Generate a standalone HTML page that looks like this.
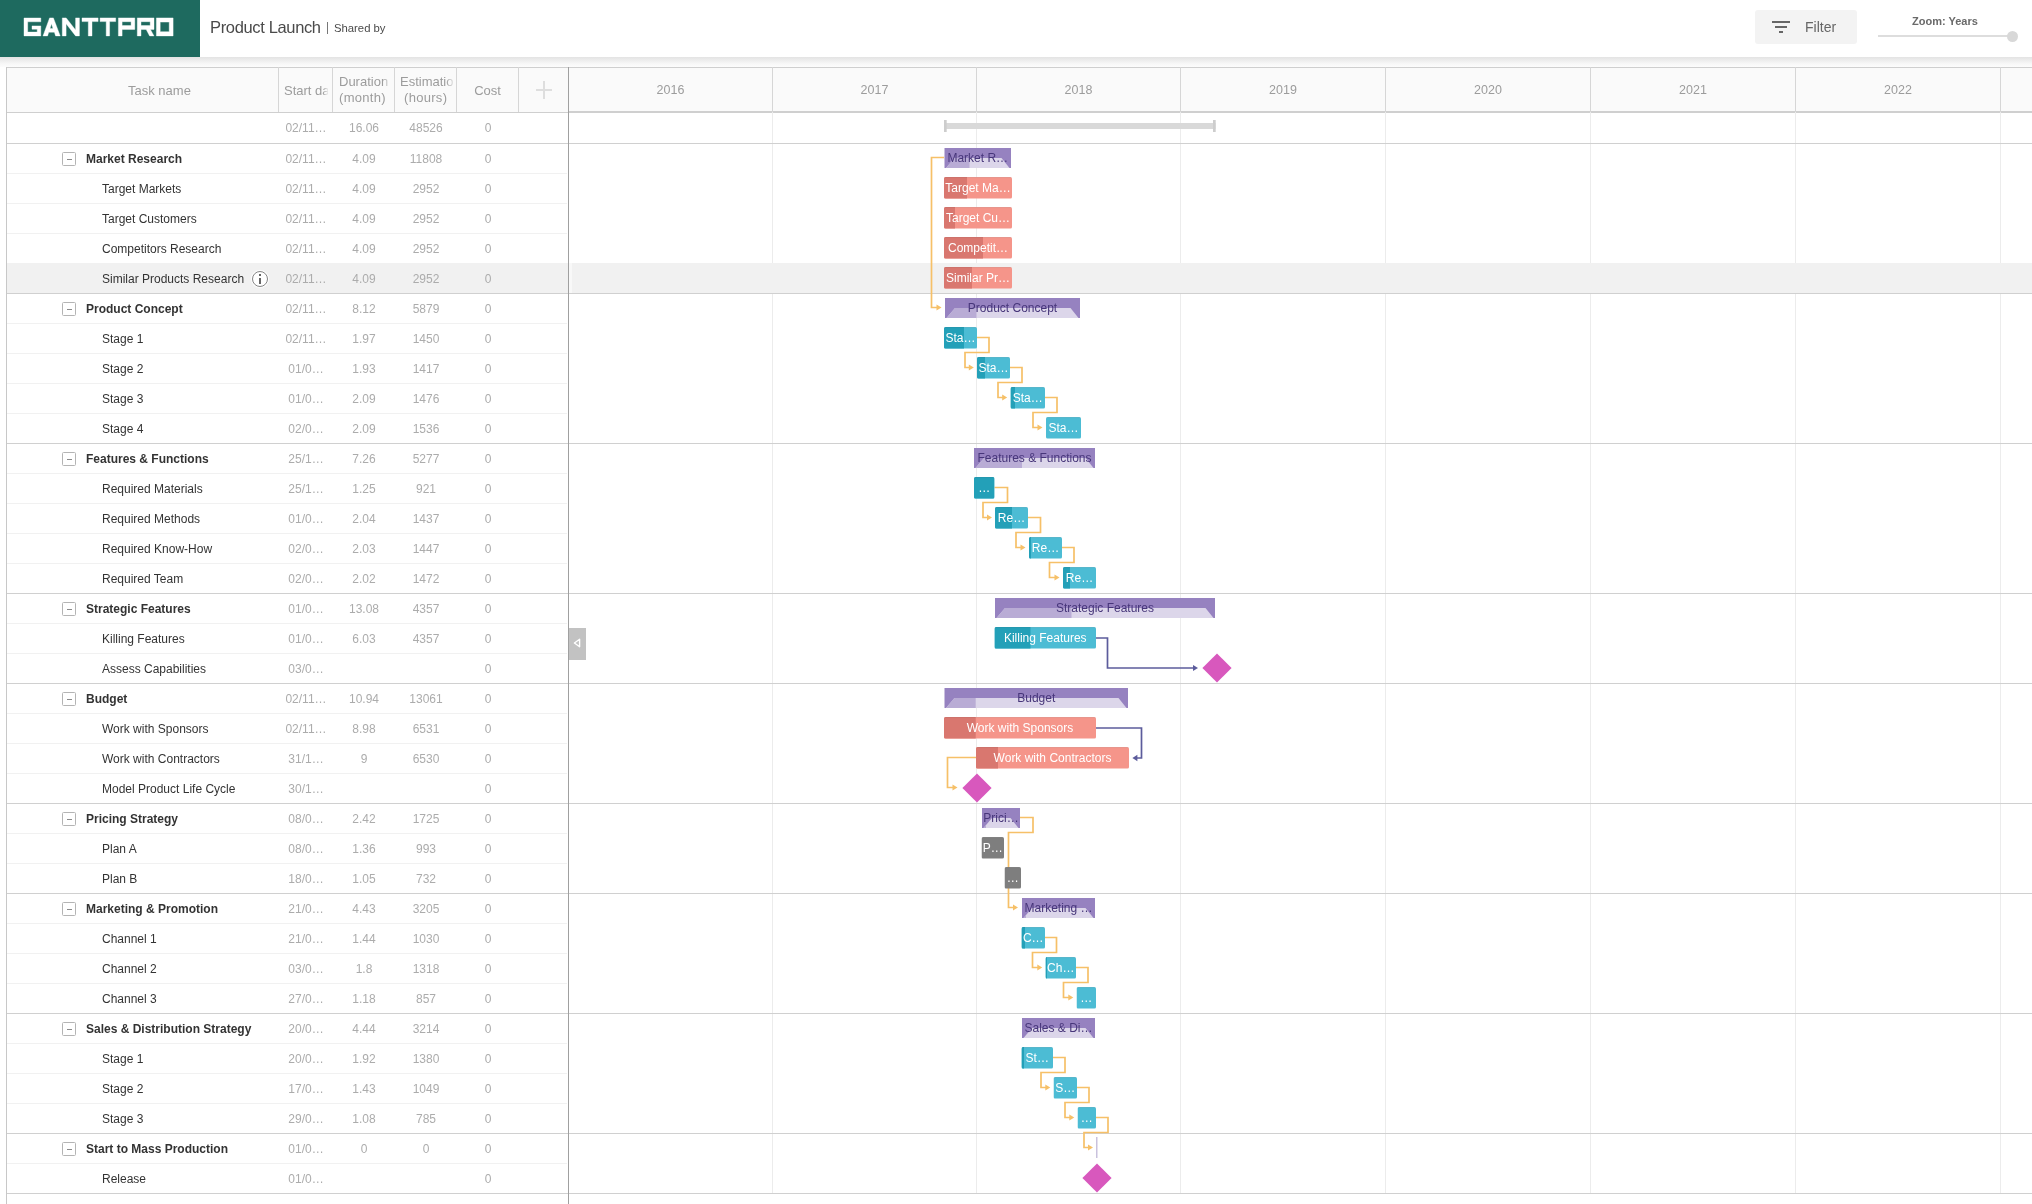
<!DOCTYPE html>
<html><head><meta charset="utf-8"><title>Product Launch</title>
<style>
*{margin:0;padding:0;box-sizing:border-box}
html,body{width:2032px;height:1204px;overflow:hidden;background:#fff;font-family:"Liberation Sans", sans-serif;-webkit-font-smoothing:antialiased}
#root{position:absolute;left:0;top:0;width:2032px;height:1204px;will-change:transform}
.a{position:absolute}
.t{position:absolute;white-space:nowrap;line-height:1}
.nm{font-size:12px;color:#333}
.nb{font-size:12px;color:#333;font-weight:bold}
.num{font-size:12px;color:#acacac;text-align:center;white-space:nowrap;position:absolute;line-height:30px;height:30px;padding-top:1px}
.hd{font-size:13px;color:#9c9c9c;position:absolute;text-align:center;white-space:nowrap;overflow:hidden}
.yr{font-size:12.5px;color:#9c9c9c;position:absolute;text-align:center;top:68px;height:45px;line-height:45px}
</style></head><body><div id="root">

<div class="a" style="left:0;top:0;width:2032px;height:57px;background:#fff"></div>
<div class="a" style="left:0;top:57px;width:2032px;height:10px;background:linear-gradient(#e3e3e3,#ececec 30%,#f2f2f2 50%,#f8f8f8 70%,#fcfcfc)"></div>
<div class="a" style="left:0;top:0;width:200px;height:57px;background:#1e6a5f"></div>
<svg class="a" style="left:0;top:0" width="200" height="57"><g fill="#fff" fill-rule="evenodd" stroke="#fff" stroke-width="0.4" stroke-linejoin="round">
<path d="M40.8,18 H24 V35.9 H40.8 V25.9 H32 V29.2 H37.2 V32.1 H27.7 V21.8 H40.8 Z"/>
<path d="M43,35.9 L49.6,17.9 L53.4,17.9 L60.2,35.9 L55.6,35.9 L54.4,32.2 L48.7,32.2 L47.6,35.9 Z M50,28.6 L53,28.6 L51.5,23.8 Z"/>
<path d="M62.3,35.9 V17.9 H66.2 L75.6,30 V17.9 H79.4 V35.9 H75.6 L66.1,23.8 V35.9 Z"/>
<path d="M82,17.9 H98.1 V21.6 H92 V35.9 H88.3 V21.6 H82 Z"/>
<path d="M100.1,17.9 H115.7 V21.6 H109.6 V35.9 H106.2 V21.6 H100.1 Z"/>
<path d="M118.4,35.9 V17.9 H134.8 V29.4 H122.1 V35.9 Z M122.1,21.7 H131.1 V25.6 H122.1 Z"/>
<path d="M137.3,35.9 V17.9 H154 V29.4 H150.4 L154,35.9 H149.6 L146.2,29.4 H141 V35.9 Z M141,21.7 H150.2 V25.6 H141 Z"/>
<path d="M156.4,17.9 H173.1 V35.9 H156.4 Z M160.2,22.1 V31.7 H169.2 V22.1 Z"/>
</g></svg>
<div class="t" style="left:210px;top:19px;font-size:16.5px;color:#4a4a4a;letter-spacing:-0.35px">Product Launch</div>
<div class="a" style="left:327px;top:22px;width:1px;height:12px;background:#777"></div>
<div class="t" style="left:334px;top:23px;font-size:11.3px;color:#4a4a4a">Shared by</div>
<div class="a" style="left:1755px;top:10px;width:102px;height:34px;background:#f3f3f3;border-radius:3px"></div>
<div class="a" style="left:1772px;top:21px;width:18px;height:2px;background:#666"></div>
<div class="a" style="left:1775px;top:26px;width:12px;height:2px;background:#666"></div>
<div class="a" style="left:1779px;top:31px;width:4px;height:2px;background:#666"></div>
<div class="t" style="left:1805px;top:20px;font-size:14px;color:#666">Filter</div>
<div class="t" style="left:1912px;top:16px;font-size:11px;color:#6a6a6a;font-weight:bold">Zoom: Years</div>
<div class="a" style="left:1878px;top:35px;width:136px;height:2px;background:#ddd"></div>
<div class="a" style="left:2006.5px;top:30.5px;width:11px;height:11px;background:#d8d8d8;border-radius:50%"></div>
<div class="a" style="left:6px;top:67px;width:2026px;height:46px;background:#fafafa;border-top:1px solid #cfcfcf"></div>
<div class="a" style="left:6px;top:112px;width:562px;height:1px;background:#cfcfcf"></div>
<div class="a" style="left:568px;top:111px;width:1464px;height:2px;background:#cfcfcf"></div>
<div class="a" style="left:278px;top:67px;width:1px;height:45px;background:#d6d6d6"></div>
<div class="a" style="left:332px;top:67px;width:1px;height:45px;background:#d6d6d6"></div>
<div class="a" style="left:394px;top:67px;width:1px;height:45px;background:#d6d6d6"></div>
<div class="a" style="left:456px;top:67px;width:1px;height:45px;background:#d6d6d6"></div>
<div class="a" style="left:518px;top:67px;width:1px;height:45px;background:#d6d6d6"></div>
<div class="hd" style="left:128px;top:83px;text-align:left">Task name</div>
<div class="hd" style="left:284px;top:83px;width:44px;text-align:left;-webkit-mask-image:linear-gradient(to right,#000 39px,rgba(0,0,0,0.15) 44px)">Start date</div>
<div class="hd" style="left:339px;top:74px;width:51px;line-height:16px;text-align:left;-webkit-mask-image:linear-gradient(to right,#000 44px,rgba(0,0,0,0.15) 51px)">Duration</div>
<div class="hd" style="left:339px;top:90px;width:49px;line-height:16px;text-align:left;letter-spacing:0.3px">(month)</div>
<div class="hd" style="left:400px;top:74px;width:54px;line-height:16px;text-align:left;-webkit-mask-image:linear-gradient(to right,#000 46px,rgba(0,0,0,0.15) 54px)">Estimation</div>
<div class="hd" style="left:404px;top:90px;width:45px;line-height:16px;text-align:left;letter-spacing:0.3px">(hours)</div>
<div class="hd" style="left:457px;top:83px;width:61px">Cost</div>
<div class="a" style="left:536px;top:89px;width:16px;height:2px;background:#dedede"></div>
<div class="a" style="left:543px;top:81px;width:2px;height:18px;background:#dedede"></div>
<div class="yr" style="left:568.5px;width:204.0px">2016</div>
<div class="yr" style="left:772.5px;width:204.0px">2017</div>
<div class="yr" style="left:976.5px;width:204.0px">2018</div>
<div class="yr" style="left:1180.5px;width:205.0px">2019</div>
<div class="yr" style="left:1385.5px;width:205.0px">2020</div>
<div class="yr" style="left:1590.5px;width:205.0px">2021</div>
<div class="yr" style="left:1795.5px;width:205.0px">2022</div>
<div class="yr" style="left:2000.5px;width:204.5px"></div>
<div class="a" style="left:772.0px;top:67px;width:1px;height:1126px;background:#ececec"></div>
<div class="a" style="left:772.0px;top:67px;width:1px;height:45px;background:#d6d6d6"></div>
<div class="a" style="left:976.0px;top:67px;width:1px;height:1126px;background:#ececec"></div>
<div class="a" style="left:976.0px;top:67px;width:1px;height:45px;background:#d6d6d6"></div>
<div class="a" style="left:1180.0px;top:67px;width:1px;height:1126px;background:#ececec"></div>
<div class="a" style="left:1180.0px;top:67px;width:1px;height:45px;background:#d6d6d6"></div>
<div class="a" style="left:1385.0px;top:67px;width:1px;height:1126px;background:#ececec"></div>
<div class="a" style="left:1385.0px;top:67px;width:1px;height:45px;background:#d6d6d6"></div>
<div class="a" style="left:1590.0px;top:67px;width:1px;height:1126px;background:#ececec"></div>
<div class="a" style="left:1590.0px;top:67px;width:1px;height:45px;background:#d6d6d6"></div>
<div class="a" style="left:1795.0px;top:67px;width:1px;height:1126px;background:#ececec"></div>
<div class="a" style="left:1795.0px;top:67px;width:1px;height:45px;background:#d6d6d6"></div>
<div class="a" style="left:2000.0px;top:67px;width:1px;height:1126px;background:#ececec"></div>
<div class="a" style="left:2000.0px;top:67px;width:1px;height:45px;background:#d6d6d6"></div>
<div class="a" style="left:7px;top:143px;width:560px;height:1px;background:#f1f1f1"></div>
<div class="num" style="left:278px;top:112px;width:56px">02/11…</div>
<div class="num" style="left:333px;top:112px;width:62px">16.06</div>
<div class="num" style="left:395px;top:112px;width:62px">48526</div>
<div class="num" style="left:457px;top:112px;width:62px">0</div>
<div class="a" style="left:7px;top:173px;width:560px;height:1px;background:#f1f1f1"></div>
<div class="a" style="left:62px;top:152px;width:14px;height:14px;border:1px solid #b4b4b4;border-radius:1.5px;background:#fff"></div>
<div class="a" style="left:67px;top:159px;width:5px;height:1px;background:#8a8a8a"></div>
<div class="t nb" style="left:86px;top:153px">Market Research</div>
<div class="num" style="left:278px;top:143px;width:56px">02/11…</div>
<div class="num" style="left:333px;top:143px;width:62px">4.09</div>
<div class="num" style="left:395px;top:143px;width:62px">11808</div>
<div class="num" style="left:457px;top:143px;width:62px">0</div>
<div class="a" style="left:7px;top:203px;width:560px;height:1px;background:#f1f1f1"></div>
<div class="t nm" style="left:102px;top:183px">Target Markets</div>
<div class="num" style="left:278px;top:173px;width:56px">02/11…</div>
<div class="num" style="left:333px;top:173px;width:62px">4.09</div>
<div class="num" style="left:395px;top:173px;width:62px">2952</div>
<div class="num" style="left:457px;top:173px;width:62px">0</div>
<div class="a" style="left:7px;top:233px;width:560px;height:1px;background:#f1f1f1"></div>
<div class="t nm" style="left:102px;top:213px">Target Customers</div>
<div class="num" style="left:278px;top:203px;width:56px">02/11…</div>
<div class="num" style="left:333px;top:203px;width:62px">4.09</div>
<div class="num" style="left:395px;top:203px;width:62px">2952</div>
<div class="num" style="left:457px;top:203px;width:62px">0</div>
<div class="a" style="left:7px;top:263px;width:560px;height:1px;background:#f1f1f1"></div>
<div class="t nm" style="left:102px;top:243px">Competitors Research</div>
<div class="num" style="left:278px;top:233px;width:56px">02/11…</div>
<div class="num" style="left:333px;top:233px;width:62px">4.09</div>
<div class="num" style="left:395px;top:233px;width:62px">2952</div>
<div class="num" style="left:457px;top:233px;width:62px">0</div>
<div class="a" style="left:7px;top:263px;width:561px;height:30px;background:#f1f1f1"></div>
<div class="a" style="left:569px;top:263px;width:3px;height:30px;background:#f8f8f8"></div>
<div class="a" style="left:572px;top:263px;width:1460px;height:30px;background:#f1f1f1"></div>
<div class="a" style="left:7px;top:293px;width:560px;height:1px;background:#f1f1f1"></div>
<div class="t nm" style="left:102px;top:273px">Similar Products Research</div>
<div class="num" style="left:278px;top:263px;width:56px">02/11…</div>
<div class="num" style="left:333px;top:263px;width:62px">4.09</div>
<div class="num" style="left:395px;top:263px;width:62px">2952</div>
<div class="num" style="left:457px;top:263px;width:62px">0</div>
<div class="a" style="left:7px;top:323px;width:560px;height:1px;background:#f1f1f1"></div>
<div class="a" style="left:62px;top:302px;width:14px;height:14px;border:1px solid #b4b4b4;border-radius:1.5px;background:#fff"></div>
<div class="a" style="left:67px;top:309px;width:5px;height:1px;background:#8a8a8a"></div>
<div class="t nb" style="left:86px;top:303px">Product Concept</div>
<div class="num" style="left:278px;top:293px;width:56px">02/11…</div>
<div class="num" style="left:333px;top:293px;width:62px">8.12</div>
<div class="num" style="left:395px;top:293px;width:62px">5879</div>
<div class="num" style="left:457px;top:293px;width:62px">0</div>
<div class="a" style="left:7px;top:353px;width:560px;height:1px;background:#f1f1f1"></div>
<div class="t nm" style="left:102px;top:333px">Stage 1</div>
<div class="num" style="left:278px;top:323px;width:56px">02/11…</div>
<div class="num" style="left:333px;top:323px;width:62px">1.97</div>
<div class="num" style="left:395px;top:323px;width:62px">1450</div>
<div class="num" style="left:457px;top:323px;width:62px">0</div>
<div class="a" style="left:7px;top:383px;width:560px;height:1px;background:#f1f1f1"></div>
<div class="t nm" style="left:102px;top:363px">Stage 2</div>
<div class="num" style="left:278px;top:353px;width:56px">01/0…</div>
<div class="num" style="left:333px;top:353px;width:62px">1.93</div>
<div class="num" style="left:395px;top:353px;width:62px">1417</div>
<div class="num" style="left:457px;top:353px;width:62px">0</div>
<div class="a" style="left:7px;top:413px;width:560px;height:1px;background:#f1f1f1"></div>
<div class="t nm" style="left:102px;top:393px">Stage 3</div>
<div class="num" style="left:278px;top:383px;width:56px">01/0…</div>
<div class="num" style="left:333px;top:383px;width:62px">2.09</div>
<div class="num" style="left:395px;top:383px;width:62px">1476</div>
<div class="num" style="left:457px;top:383px;width:62px">0</div>
<div class="a" style="left:7px;top:443px;width:560px;height:1px;background:#f1f1f1"></div>
<div class="t nm" style="left:102px;top:423px">Stage 4</div>
<div class="num" style="left:278px;top:413px;width:56px">02/0…</div>
<div class="num" style="left:333px;top:413px;width:62px">2.09</div>
<div class="num" style="left:395px;top:413px;width:62px">1536</div>
<div class="num" style="left:457px;top:413px;width:62px">0</div>
<div class="a" style="left:7px;top:473px;width:560px;height:1px;background:#f1f1f1"></div>
<div class="a" style="left:62px;top:452px;width:14px;height:14px;border:1px solid #b4b4b4;border-radius:1.5px;background:#fff"></div>
<div class="a" style="left:67px;top:459px;width:5px;height:1px;background:#8a8a8a"></div>
<div class="t nb" style="left:86px;top:453px">Features &amp; Functions</div>
<div class="num" style="left:278px;top:443px;width:56px">25/1…</div>
<div class="num" style="left:333px;top:443px;width:62px">7.26</div>
<div class="num" style="left:395px;top:443px;width:62px">5277</div>
<div class="num" style="left:457px;top:443px;width:62px">0</div>
<div class="a" style="left:7px;top:503px;width:560px;height:1px;background:#f1f1f1"></div>
<div class="t nm" style="left:102px;top:483px">Required Materials</div>
<div class="num" style="left:278px;top:473px;width:56px">25/1…</div>
<div class="num" style="left:333px;top:473px;width:62px">1.25</div>
<div class="num" style="left:395px;top:473px;width:62px">921</div>
<div class="num" style="left:457px;top:473px;width:62px">0</div>
<div class="a" style="left:7px;top:533px;width:560px;height:1px;background:#f1f1f1"></div>
<div class="t nm" style="left:102px;top:513px">Required Methods</div>
<div class="num" style="left:278px;top:503px;width:56px">01/0…</div>
<div class="num" style="left:333px;top:503px;width:62px">2.04</div>
<div class="num" style="left:395px;top:503px;width:62px">1437</div>
<div class="num" style="left:457px;top:503px;width:62px">0</div>
<div class="a" style="left:7px;top:563px;width:560px;height:1px;background:#f1f1f1"></div>
<div class="t nm" style="left:102px;top:543px">Required Know-How</div>
<div class="num" style="left:278px;top:533px;width:56px">02/0…</div>
<div class="num" style="left:333px;top:533px;width:62px">2.03</div>
<div class="num" style="left:395px;top:533px;width:62px">1447</div>
<div class="num" style="left:457px;top:533px;width:62px">0</div>
<div class="a" style="left:7px;top:593px;width:560px;height:1px;background:#f1f1f1"></div>
<div class="t nm" style="left:102px;top:573px">Required Team</div>
<div class="num" style="left:278px;top:563px;width:56px">02/0…</div>
<div class="num" style="left:333px;top:563px;width:62px">2.02</div>
<div class="num" style="left:395px;top:563px;width:62px">1472</div>
<div class="num" style="left:457px;top:563px;width:62px">0</div>
<div class="a" style="left:7px;top:623px;width:560px;height:1px;background:#f1f1f1"></div>
<div class="a" style="left:62px;top:602px;width:14px;height:14px;border:1px solid #b4b4b4;border-radius:1.5px;background:#fff"></div>
<div class="a" style="left:67px;top:609px;width:5px;height:1px;background:#8a8a8a"></div>
<div class="t nb" style="left:86px;top:603px">Strategic Features</div>
<div class="num" style="left:278px;top:593px;width:56px">01/0…</div>
<div class="num" style="left:333px;top:593px;width:62px">13.08</div>
<div class="num" style="left:395px;top:593px;width:62px">4357</div>
<div class="num" style="left:457px;top:593px;width:62px">0</div>
<div class="a" style="left:7px;top:653px;width:560px;height:1px;background:#f1f1f1"></div>
<div class="t nm" style="left:102px;top:633px">Killing Features</div>
<div class="num" style="left:278px;top:623px;width:56px">01/0…</div>
<div class="num" style="left:333px;top:623px;width:62px">6.03</div>
<div class="num" style="left:395px;top:623px;width:62px">4357</div>
<div class="num" style="left:457px;top:623px;width:62px">0</div>
<div class="a" style="left:7px;top:683px;width:560px;height:1px;background:#f1f1f1"></div>
<div class="t nm" style="left:102px;top:663px">Assess Capabilities</div>
<div class="num" style="left:278px;top:653px;width:56px">03/0…</div>
<div class="num" style="left:333px;top:653px;width:62px"></div>
<div class="num" style="left:395px;top:653px;width:62px"></div>
<div class="num" style="left:457px;top:653px;width:62px">0</div>
<div class="a" style="left:7px;top:713px;width:560px;height:1px;background:#f1f1f1"></div>
<div class="a" style="left:62px;top:692px;width:14px;height:14px;border:1px solid #b4b4b4;border-radius:1.5px;background:#fff"></div>
<div class="a" style="left:67px;top:699px;width:5px;height:1px;background:#8a8a8a"></div>
<div class="t nb" style="left:86px;top:693px">Budget</div>
<div class="num" style="left:278px;top:683px;width:56px">02/11…</div>
<div class="num" style="left:333px;top:683px;width:62px">10.94</div>
<div class="num" style="left:395px;top:683px;width:62px">13061</div>
<div class="num" style="left:457px;top:683px;width:62px">0</div>
<div class="a" style="left:7px;top:743px;width:560px;height:1px;background:#f1f1f1"></div>
<div class="t nm" style="left:102px;top:723px">Work with Sponsors</div>
<div class="num" style="left:278px;top:713px;width:56px">02/11…</div>
<div class="num" style="left:333px;top:713px;width:62px">8.98</div>
<div class="num" style="left:395px;top:713px;width:62px">6531</div>
<div class="num" style="left:457px;top:713px;width:62px">0</div>
<div class="a" style="left:7px;top:773px;width:560px;height:1px;background:#f1f1f1"></div>
<div class="t nm" style="left:102px;top:753px">Work with Contractors</div>
<div class="num" style="left:278px;top:743px;width:56px">31/1…</div>
<div class="num" style="left:333px;top:743px;width:62px">9</div>
<div class="num" style="left:395px;top:743px;width:62px">6530</div>
<div class="num" style="left:457px;top:743px;width:62px">0</div>
<div class="a" style="left:7px;top:803px;width:560px;height:1px;background:#f1f1f1"></div>
<div class="t nm" style="left:102px;top:783px">Model Product Life Cycle</div>
<div class="num" style="left:278px;top:773px;width:56px">30/1…</div>
<div class="num" style="left:333px;top:773px;width:62px"></div>
<div class="num" style="left:395px;top:773px;width:62px"></div>
<div class="num" style="left:457px;top:773px;width:62px">0</div>
<div class="a" style="left:7px;top:833px;width:560px;height:1px;background:#f1f1f1"></div>
<div class="a" style="left:62px;top:812px;width:14px;height:14px;border:1px solid #b4b4b4;border-radius:1.5px;background:#fff"></div>
<div class="a" style="left:67px;top:819px;width:5px;height:1px;background:#8a8a8a"></div>
<div class="t nb" style="left:86px;top:813px">Pricing Strategy</div>
<div class="num" style="left:278px;top:803px;width:56px">08/0…</div>
<div class="num" style="left:333px;top:803px;width:62px">2.42</div>
<div class="num" style="left:395px;top:803px;width:62px">1725</div>
<div class="num" style="left:457px;top:803px;width:62px">0</div>
<div class="a" style="left:7px;top:863px;width:560px;height:1px;background:#f1f1f1"></div>
<div class="t nm" style="left:102px;top:843px">Plan A</div>
<div class="num" style="left:278px;top:833px;width:56px">08/0…</div>
<div class="num" style="left:333px;top:833px;width:62px">1.36</div>
<div class="num" style="left:395px;top:833px;width:62px">993</div>
<div class="num" style="left:457px;top:833px;width:62px">0</div>
<div class="a" style="left:7px;top:893px;width:560px;height:1px;background:#f1f1f1"></div>
<div class="t nm" style="left:102px;top:873px">Plan B</div>
<div class="num" style="left:278px;top:863px;width:56px">18/0…</div>
<div class="num" style="left:333px;top:863px;width:62px">1.05</div>
<div class="num" style="left:395px;top:863px;width:62px">732</div>
<div class="num" style="left:457px;top:863px;width:62px">0</div>
<div class="a" style="left:7px;top:923px;width:560px;height:1px;background:#f1f1f1"></div>
<div class="a" style="left:62px;top:902px;width:14px;height:14px;border:1px solid #b4b4b4;border-radius:1.5px;background:#fff"></div>
<div class="a" style="left:67px;top:909px;width:5px;height:1px;background:#8a8a8a"></div>
<div class="t nb" style="left:86px;top:903px">Marketing &amp; Promotion</div>
<div class="num" style="left:278px;top:893px;width:56px">21/0…</div>
<div class="num" style="left:333px;top:893px;width:62px">4.43</div>
<div class="num" style="left:395px;top:893px;width:62px">3205</div>
<div class="num" style="left:457px;top:893px;width:62px">0</div>
<div class="a" style="left:7px;top:953px;width:560px;height:1px;background:#f1f1f1"></div>
<div class="t nm" style="left:102px;top:933px">Channel 1</div>
<div class="num" style="left:278px;top:923px;width:56px">21/0…</div>
<div class="num" style="left:333px;top:923px;width:62px">1.44</div>
<div class="num" style="left:395px;top:923px;width:62px">1030</div>
<div class="num" style="left:457px;top:923px;width:62px">0</div>
<div class="a" style="left:7px;top:983px;width:560px;height:1px;background:#f1f1f1"></div>
<div class="t nm" style="left:102px;top:963px">Channel 2</div>
<div class="num" style="left:278px;top:953px;width:56px">03/0…</div>
<div class="num" style="left:333px;top:953px;width:62px">1.8</div>
<div class="num" style="left:395px;top:953px;width:62px">1318</div>
<div class="num" style="left:457px;top:953px;width:62px">0</div>
<div class="a" style="left:7px;top:1013px;width:560px;height:1px;background:#f1f1f1"></div>
<div class="t nm" style="left:102px;top:993px">Channel 3</div>
<div class="num" style="left:278px;top:983px;width:56px">27/0…</div>
<div class="num" style="left:333px;top:983px;width:62px">1.18</div>
<div class="num" style="left:395px;top:983px;width:62px">857</div>
<div class="num" style="left:457px;top:983px;width:62px">0</div>
<div class="a" style="left:7px;top:1043px;width:560px;height:1px;background:#f1f1f1"></div>
<div class="a" style="left:62px;top:1022px;width:14px;height:14px;border:1px solid #b4b4b4;border-radius:1.5px;background:#fff"></div>
<div class="a" style="left:67px;top:1029px;width:5px;height:1px;background:#8a8a8a"></div>
<div class="t nb" style="left:86px;top:1023px">Sales &amp; Distribution Strategy</div>
<div class="num" style="left:278px;top:1013px;width:56px">20/0…</div>
<div class="num" style="left:333px;top:1013px;width:62px">4.44</div>
<div class="num" style="left:395px;top:1013px;width:62px">3214</div>
<div class="num" style="left:457px;top:1013px;width:62px">0</div>
<div class="a" style="left:7px;top:1073px;width:560px;height:1px;background:#f1f1f1"></div>
<div class="t nm" style="left:102px;top:1053px">Stage 1</div>
<div class="num" style="left:278px;top:1043px;width:56px">20/0…</div>
<div class="num" style="left:333px;top:1043px;width:62px">1.92</div>
<div class="num" style="left:395px;top:1043px;width:62px">1380</div>
<div class="num" style="left:457px;top:1043px;width:62px">0</div>
<div class="a" style="left:7px;top:1103px;width:560px;height:1px;background:#f1f1f1"></div>
<div class="t nm" style="left:102px;top:1083px">Stage 2</div>
<div class="num" style="left:278px;top:1073px;width:56px">17/0…</div>
<div class="num" style="left:333px;top:1073px;width:62px">1.43</div>
<div class="num" style="left:395px;top:1073px;width:62px">1049</div>
<div class="num" style="left:457px;top:1073px;width:62px">0</div>
<div class="a" style="left:7px;top:1133px;width:560px;height:1px;background:#f1f1f1"></div>
<div class="t nm" style="left:102px;top:1113px">Stage 3</div>
<div class="num" style="left:278px;top:1103px;width:56px">29/0…</div>
<div class="num" style="left:333px;top:1103px;width:62px">1.08</div>
<div class="num" style="left:395px;top:1103px;width:62px">785</div>
<div class="num" style="left:457px;top:1103px;width:62px">0</div>
<div class="a" style="left:7px;top:1163px;width:560px;height:1px;background:#f1f1f1"></div>
<div class="a" style="left:62px;top:1142px;width:14px;height:14px;border:1px solid #b4b4b4;border-radius:1.5px;background:#fff"></div>
<div class="a" style="left:67px;top:1149px;width:5px;height:1px;background:#8a8a8a"></div>
<div class="t nb" style="left:86px;top:1143px">Start to Mass Production</div>
<div class="num" style="left:278px;top:1133px;width:56px">01/0…</div>
<div class="num" style="left:333px;top:1133px;width:62px">0</div>
<div class="num" style="left:395px;top:1133px;width:62px">0</div>
<div class="num" style="left:457px;top:1133px;width:62px">0</div>
<div class="a" style="left:7px;top:1193px;width:560px;height:1px;background:#f1f1f1"></div>
<div class="t nm" style="left:102px;top:1173px">Release</div>
<div class="num" style="left:278px;top:1163px;width:56px">01/0…</div>
<div class="num" style="left:333px;top:1163px;width:62px"></div>
<div class="num" style="left:395px;top:1163px;width:62px"></div>
<div class="num" style="left:457px;top:1163px;width:62px">0</div>
<div class="a" style="left:7px;top:143px;width:2025px;height:1px;background:#d0d0d0"></div>
<div class="a" style="left:7px;top:293px;width:2025px;height:1px;background:#d0d0d0"></div>
<div class="a" style="left:7px;top:443px;width:2025px;height:1px;background:#d0d0d0"></div>
<div class="a" style="left:7px;top:593px;width:2025px;height:1px;background:#d0d0d0"></div>
<div class="a" style="left:7px;top:683px;width:2025px;height:1px;background:#d0d0d0"></div>
<div class="a" style="left:7px;top:803px;width:2025px;height:1px;background:#d0d0d0"></div>
<div class="a" style="left:7px;top:893px;width:2025px;height:1px;background:#d0d0d0"></div>
<div class="a" style="left:7px;top:1013px;width:2025px;height:1px;background:#d0d0d0"></div>
<div class="a" style="left:7px;top:1133px;width:2025px;height:1px;background:#d0d0d0"></div>
<div class="a" style="left:7px;top:1193px;width:2025px;height:1px;background:#d0d0d0"></div>
<div class="a" style="left:252px;top:271px;width:16px;height:16px;border:1.3px solid #838383;border-radius:50%;background:#fff;box-shadow:0 0 1px 1px #fff"></div>
<div class="a" style="left:259px;top:274px;width:2px;height:2px;background:#666"></div>
<div class="a" style="left:259px;top:278px;width:2px;height:6px;background:#666"></div>
<div class="a" style="left:6px;top:67px;width:1px;height:1137px;background:#c8c8c8"></div>
<div class="a" style="left:568px;top:67px;width:1px;height:1137px;background:#a0a0a0"></div>
<div class="a" style="left:569px;top:628px;width:17px;height:32px;background:#c2c2c2"></div>
<svg class="a" style="left:569px;top:628px" width="17" height="32"><path d="M10.6 11.3 L5.4 15 L10.6 18.7 Z" fill="none" stroke="#fff" stroke-width="1.4" stroke-linejoin="round"/></svg>
<svg class="a" style="left:0;top:0" width="2032" height="1204">
<rect x="944" y="123" width="271.5" height="6" fill="#d9d9d9"/>
<rect x="944" y="120" width="2.7" height="12" fill="#cdcdcd"/><rect x="1213" y="120" width="2.7" height="12" fill="#cdcdcd"/>
<path d="M944,157.5 L931.5,157.5 L931.5,307.5 L937.5,307.5" fill="none" stroke="#f6c068" stroke-width="1.7"/>
<path d="M936.5,304.5 L941.5,307.5 L936.5,310.5 Z" fill="#f6c068"/>
<path d="M977,337.5 L989,337.5 L989,352.5 L965,352.5 L965,367.5 L969.8,367.5" fill="none" stroke="#f6c068" stroke-width="1.7"/>
<path d="M968.8,364.5 L973.8,367.5 L968.8,370.5 Z" fill="#f6c068"/>
<path d="M1010,367.5 L1022,367.5 L1022,382.5 L998,382.5 L998,397.5 L1003.2,397.5" fill="none" stroke="#f6c068" stroke-width="1.7"/>
<path d="M1002.2,394.5 L1007.2,397.5 L1002.2,400.5 Z" fill="#f6c068"/>
<path d="M1045,397.5 L1057,397.5 L1057,412.5 L1033,412.5 L1033,427.5 L1038.5,427.5" fill="none" stroke="#f6c068" stroke-width="1.7"/>
<path d="M1037.5,424.5 L1042.5,427.5 L1037.5,430.5 Z" fill="#f6c068"/>
<path d="M994.5,487.5 L1007.5,487.5 L1007.5,502.5 L983,502.5 L983,517.5 L988,517.5" fill="none" stroke="#f6c068" stroke-width="1.7"/>
<path d="M987,514.5 L992,517.5 L987,520.5 Z" fill="#f6c068"/>
<path d="M1028,517.5 L1040.5,517.5 L1040.5,532.5 L1016,532.5 L1016,547.5 L1021.5,547.5" fill="none" stroke="#f6c068" stroke-width="1.7"/>
<path d="M1020.5,544.5 L1025.5,547.5 L1020.5,550.5 Z" fill="#f6c068"/>
<path d="M1062,547.5 L1074,547.5 L1074,562.5 L1049.5,562.5 L1049.5,577.5 L1055.5,577.5" fill="none" stroke="#f6c068" stroke-width="1.7"/>
<path d="M1054.5,574.5 L1059.5,577.5 L1054.5,580.5 Z" fill="#f6c068"/>
<path d="M1096,638 L1107.5,638 L1107.5,668 L1194,668" fill="none" stroke="#5c5c9c" stroke-width="1.7"/>
<path d="M1193,665 L1198,668 L1193,671 Z" fill="#5c5c9c"/>
<path d="M1096,728 L1141.5,728 L1141.5,758 L1136.4,758" fill="none" stroke="#5c5c9c" stroke-width="1.7"/>
<path d="M1137.4,754.7 L1132.4,758 L1137.4,761.3 Z" fill="#5c5c9c"/>
<path d="M976,757.5 L947.5,757.5 L947.5,787.5 L953.5,787.5" fill="none" stroke="#f6c068" stroke-width="1.7"/>
<path d="M952.5,784.5 L957.5,787.5 L952.5,790.5 Z" fill="#f6c068"/>
<path d="M1020,817.5 L1033,817.5 L1033,832.5 L1008.5,832.5 L1008.5,907.5 L1014,907.5" fill="none" stroke="#f6c068" stroke-width="1.7"/>
<path d="M1013,904.5 L1018,907.5 L1013,910.5 Z" fill="#f6c068"/>
<path d="M1045,937.5 L1056.5,937.5 L1056.5,952.5 L1032.5,952.5 L1032.5,967.5 L1038.3,967.5" fill="none" stroke="#f6c068" stroke-width="1.7"/>
<path d="M1037.3,964.5 L1042.3,967.5 L1037.3,970.5 Z" fill="#f6c068"/>
<path d="M1076,967.5 L1088,967.5 L1088,982.5 L1063.5,982.5 L1063.5,997.5 L1069.3,997.5" fill="none" stroke="#f6c068" stroke-width="1.7"/>
<path d="M1068.3,994.5 L1073.3,997.5 L1068.3,1000.5 Z" fill="#f6c068"/>
<path d="M1053,1057.5 L1065,1057.5 L1065,1072.5 L1041,1072.5 L1041,1087.5 L1046.3,1087.5" fill="none" stroke="#f6c068" stroke-width="1.7"/>
<path d="M1045.3,1084.5 L1050.3,1087.5 L1045.3,1090.5 Z" fill="#f6c068"/>
<path d="M1077,1087.5 L1089,1087.5 L1089,1102.5 L1065,1102.5 L1065,1117.5 L1070.3,1117.5" fill="none" stroke="#f6c068" stroke-width="1.7"/>
<path d="M1069.3,1114.5 L1074.3,1117.5 L1069.3,1120.5 Z" fill="#f6c068"/>
<path d="M1096,1117.5 L1108,1117.5 L1108,1132.5 L1084,1132.5 L1084,1147.5 L1089,1147.5" fill="none" stroke="#f6c068" stroke-width="1.7"/>
<path d="M1088,1144.5 L1093,1147.5 L1088,1150.5 Z" fill="#f6c068"/>
<rect x="944.5" y="148" width="66.5" height="20" fill="#9682c0"/><path d="M954.5,158 L1001.5,158 L1009.5,168 L946.0,168 Z" fill="#dcd6ea"/><clipPath id="c1"><rect x="944.5" y="158" width="25.0" height="10"/></clipPath><path d="M954.5,158 L1001.5,158 L1009.5,168 L946.0,168 Z" fill="#b9acd5" clip-path="url(#c1)"/><text x="977.75" y="162.3" text-anchor="middle" font-size="12" fill="#47367a" font-family='"Liberation Sans", sans-serif'>Market R…</text>
<rect x="945" y="298" width="135" height="20" fill="#9682c0"/><path d="M955,308 L1070.5,308 L1078.5,318 L946.5,318 Z" fill="#dcd6ea"/><clipPath id="c6"><rect x="945" y="308" width="31.5" height="10"/></clipPath><path d="M955,308 L1070.5,308 L1078.5,318 L946.5,318 Z" fill="#b9acd5" clip-path="url(#c6)"/><text x="1012.5" y="312.3" text-anchor="middle" font-size="12" fill="#47367a" font-family='"Liberation Sans", sans-serif'>Product Concept</text>
<rect x="974" y="448" width="121" height="20" fill="#9682c0"/><path d="M984,458 L1085.5,458 L1093.5,468 L975.5,468 Z" fill="#dcd6ea"/><clipPath id="c11"><rect x="974" y="458" width="48" height="10"/></clipPath><path d="M984,458 L1085.5,458 L1093.5,468 L975.5,468 Z" fill="#b9acd5" clip-path="url(#c11)"/><text x="1034.5" y="462.3" text-anchor="middle" font-size="12" fill="#47367a" font-family='"Liberation Sans", sans-serif'>Features &amp; Functions</text>
<rect x="995" y="598" width="220" height="20" fill="#9682c0"/><path d="M1005,608 L1205.5,608 L1213.5,618 L996.5,618 Z" fill="#dcd6ea"/><clipPath id="c16"><rect x="995" y="608" width="76.5" height="10"/></clipPath><path d="M1005,608 L1205.5,608 L1213.5,618 L996.5,618 Z" fill="#b9acd5" clip-path="url(#c16)"/><text x="1105.0" y="612.3" text-anchor="middle" font-size="12" fill="#47367a" font-family='"Liberation Sans", sans-serif'>Strategic Features</text>
<rect x="944.5" y="688" width="183.5" height="20" fill="#9682c0"/><path d="M954.5,698 L1118.5,698 L1126.5,708 L946.0,708 Z" fill="#dcd6ea"/><clipPath id="c19"><rect x="944.5" y="698" width="31.200000000000045" height="10"/></clipPath><path d="M954.5,698 L1118.5,698 L1126.5,708 L946.0,708 Z" fill="#b9acd5" clip-path="url(#c19)"/><text x="1036.25" y="702.3" text-anchor="middle" font-size="12" fill="#47367a" font-family='"Liberation Sans", sans-serif'>Budget</text>
<rect x="982" y="808" width="38" height="20" fill="#9682c0"/><path d="M992,818 L1010.5,818 L1018.5,828 L983.5,828 Z" fill="#dcd6ea"/><clipPath id="c23"><rect x="982" y="818" width="4" height="10"/></clipPath><path d="M992,818 L1010.5,818 L1018.5,828 L983.5,828 Z" fill="#b9acd5" clip-path="url(#c23)"/><text x="1001.0" y="822.3" text-anchor="middle" font-size="12" fill="#47367a" font-family='"Liberation Sans", sans-serif'>Prici…</text>
<rect x="1022" y="898" width="73" height="20" fill="#9682c0"/><path d="M1032,908 L1085.5,908 L1093.5,918 L1023.5,918 Z" fill="#dcd6ea"/><clipPath id="c26"><rect x="1022" y="908" width="4" height="10"/></clipPath><path d="M1032,908 L1085.5,908 L1093.5,918 L1023.5,918 Z" fill="#b9acd5" clip-path="url(#c26)"/><text x="1058.5" y="912.3" text-anchor="middle" font-size="12" fill="#47367a" font-family='"Liberation Sans", sans-serif'>Marketing …</text>
<rect x="1022" y="1018" width="73" height="20" fill="#9682c0"/><path d="M1032,1028 L1085.5,1028 L1093.5,1038 L1023.5,1038 Z" fill="#dcd6ea"/><clipPath id="c30"><rect x="1022" y="1028" width="2" height="10"/></clipPath><path d="M1032,1028 L1085.5,1028 L1093.5,1038 L1023.5,1038 Z" fill="#b9acd5" clip-path="url(#c30)"/><text x="1058.5" y="1032.3" text-anchor="middle" font-size="12" fill="#47367a" font-family='"Liberation Sans", sans-serif'>Sales &amp; Di…</text>
<clipPath id="k2"><rect x="944" y="177.1" width="68" height="21.5" rx="1.6"/></clipPath><g clip-path="url(#k2)"><rect x="944" y="177.1" width="68" height="22" fill="#f5958a"/><rect x="944" y="177.1" width="23" height="22" fill="#d9776f"/><rect x="944" y="177.1" width="68" height="1" fill="#000" fill-opacity="0.07"/><text x="978.0" y="192.29999999999998" text-anchor="middle" font-size="12" fill="#fff" font-family='"Liberation Sans", sans-serif'>Target Ma…</text></g>
<clipPath id="k3"><rect x="944" y="207.1" width="68" height="21.5" rx="1.6"/></clipPath><g clip-path="url(#k3)"><rect x="944" y="207.1" width="68" height="22" fill="#f5958a"/><rect x="944" y="207.1" width="11" height="22" fill="#d9776f"/><rect x="944" y="207.1" width="68" height="1" fill="#000" fill-opacity="0.07"/><text x="978.0" y="222.29999999999998" text-anchor="middle" font-size="12" fill="#fff" font-family='"Liberation Sans", sans-serif'>Target Cu…</text></g>
<clipPath id="k4"><rect x="944" y="237.1" width="68" height="21.5" rx="1.6"/></clipPath><g clip-path="url(#k4)"><rect x="944" y="237.1" width="68" height="22" fill="#f5958a"/><rect x="944" y="237.1" width="39" height="22" fill="#d9776f"/><rect x="944" y="237.1" width="68" height="1" fill="#000" fill-opacity="0.07"/><text x="978.0" y="252.29999999999998" text-anchor="middle" font-size="12" fill="#fff" font-family='"Liberation Sans", sans-serif'>Competit…</text></g>
<clipPath id="k5"><rect x="944" y="267.1" width="68" height="21.5" rx="1.6"/></clipPath><g clip-path="url(#k5)"><rect x="944" y="267.1" width="68" height="22" fill="#f5958a"/><rect x="944" y="267.1" width="28" height="22" fill="#d9776f"/><rect x="944" y="267.1" width="68" height="1" fill="#000" fill-opacity="0.07"/><text x="978.0" y="282.3" text-anchor="middle" font-size="12" fill="#fff" font-family='"Liberation Sans", sans-serif'>Similar Pr…</text></g>
<clipPath id="k7"><rect x="944" y="327.1" width="33" height="21.5" rx="1.6"/></clipPath><g clip-path="url(#k7)"><rect x="944" y="327.1" width="33" height="22" fill="#4cbcd4"/><rect x="944" y="327.1" width="20" height="22" fill="#23a0b8"/><rect x="944" y="327.1" width="33" height="1" fill="#000" fill-opacity="0.07"/><text x="960.5" y="342.3" text-anchor="middle" font-size="12" fill="#fff" font-family='"Liberation Sans", sans-serif'>Sta…</text></g>
<clipPath id="k8"><rect x="977" y="357.1" width="33" height="21.5" rx="1.6"/></clipPath><g clip-path="url(#k8)"><rect x="977" y="357.1" width="33" height="22" fill="#4cbcd4"/><rect x="977" y="357.1" width="8" height="22" fill="#23a0b8"/><rect x="977" y="357.1" width="33" height="1" fill="#000" fill-opacity="0.07"/><text x="993.5" y="372.3" text-anchor="middle" font-size="12" fill="#fff" font-family='"Liberation Sans", sans-serif'>Sta…</text></g>
<clipPath id="k9"><rect x="1010.5" y="387.1" width="34.5" height="21.5" rx="1.6"/></clipPath><g clip-path="url(#k9)"><rect x="1010.5" y="387.1" width="34.5" height="22" fill="#4cbcd4"/><rect x="1010.5" y="387.1" width="4.5" height="22" fill="#23a0b8"/><rect x="1010.5" y="387.1" width="34.5" height="1" fill="#000" fill-opacity="0.07"/><text x="1027.75" y="402.3" text-anchor="middle" font-size="12" fill="#fff" font-family='"Liberation Sans", sans-serif'>Sta…</text></g>
<clipPath id="k10"><rect x="1046" y="417.1" width="35" height="21.5" rx="1.6"/></clipPath><g clip-path="url(#k10)"><rect x="1046" y="417.1" width="35" height="22" fill="#4cbcd4"/><rect x="1046" y="417.1" width="35" height="1" fill="#000" fill-opacity="0.07"/><text x="1063.5" y="432.3" text-anchor="middle" font-size="12" fill="#fff" font-family='"Liberation Sans", sans-serif'>Sta…</text></g>
<clipPath id="k12"><rect x="974" y="477.1" width="20.5" height="21.5" rx="1.6"/></clipPath><g clip-path="url(#k12)"><rect x="974" y="477.1" width="20.5" height="22" fill="#4cbcd4"/><rect x="974" y="477.1" width="20.5" height="22" fill="#23a0b8"/><rect x="974" y="477.1" width="20.5" height="1" fill="#000" fill-opacity="0.07"/><text x="984.25" y="492.3" text-anchor="middle" font-size="12" fill="#fff" font-family='"Liberation Sans", sans-serif'>…</text></g>
<clipPath id="k13"><rect x="995" y="507.1" width="33" height="21.5" rx="1.6"/></clipPath><g clip-path="url(#k13)"><rect x="995" y="507.1" width="33" height="22" fill="#4cbcd4"/><rect x="995" y="507.1" width="17" height="22" fill="#23a0b8"/><rect x="995" y="507.1" width="33" height="1" fill="#000" fill-opacity="0.07"/><text x="1011.5" y="522.3000000000001" text-anchor="middle" font-size="12" fill="#fff" font-family='"Liberation Sans", sans-serif'>Re…</text></g>
<clipPath id="k14"><rect x="1029" y="537.1" width="33" height="21.5" rx="1.6"/></clipPath><g clip-path="url(#k14)"><rect x="1029" y="537.1" width="33" height="22" fill="#4cbcd4"/><rect x="1029" y="537.1" width="2" height="22" fill="#23a0b8"/><rect x="1029" y="537.1" width="33" height="1" fill="#000" fill-opacity="0.07"/><text x="1045.5" y="552.3000000000001" text-anchor="middle" font-size="12" fill="#fff" font-family='"Liberation Sans", sans-serif'>Re…</text></g>
<clipPath id="k15"><rect x="1063" y="567.1" width="33" height="21.5" rx="1.6"/></clipPath><g clip-path="url(#k15)"><rect x="1063" y="567.1" width="33" height="22" fill="#4cbcd4"/><rect x="1063" y="567.1" width="7" height="22" fill="#23a0b8"/><rect x="1063" y="567.1" width="33" height="1" fill="#000" fill-opacity="0.07"/><text x="1079.5" y="582.3000000000001" text-anchor="middle" font-size="12" fill="#fff" font-family='"Liberation Sans", sans-serif'>Re…</text></g>
<clipPath id="k17"><rect x="994.5" y="627.1" width="101.5" height="21.5" rx="1.6"/></clipPath><g clip-path="url(#k17)"><rect x="994.5" y="627.1" width="101.5" height="22" fill="#4cbcd4"/><rect x="994.5" y="627.1" width="36.0" height="22" fill="#23a0b8"/><rect x="994.5" y="627.1" width="101.5" height="1" fill="#000" fill-opacity="0.07"/><text x="1045.25" y="642.3000000000001" text-anchor="middle" font-size="12" fill="#fff" font-family='"Liberation Sans", sans-serif'>Killing Features</text></g>
<clipPath id="k20"><rect x="944" y="717.1" width="152" height="21.5" rx="1.6"/></clipPath><g clip-path="url(#k20)"><rect x="944" y="717.1" width="152" height="22" fill="#f5958a"/><rect x="944" y="717.1" width="31.700000000000045" height="22" fill="#d9776f"/><rect x="944" y="717.1" width="152" height="1" fill="#000" fill-opacity="0.07"/><text x="1020.0" y="732.3000000000001" text-anchor="middle" font-size="12" fill="#fff" font-family='"Liberation Sans", sans-serif'>Work with Sponsors</text></g>
<clipPath id="k21"><rect x="976" y="747.1" width="153" height="21.5" rx="1.6"/></clipPath><g clip-path="url(#k21)"><rect x="976" y="747.1" width="153" height="22" fill="#f5958a"/><rect x="976" y="747.1" width="22" height="22" fill="#d9776f"/><rect x="976" y="747.1" width="153" height="1" fill="#000" fill-opacity="0.07"/><text x="1052.5" y="762.3000000000001" text-anchor="middle" font-size="12" fill="#fff" font-family='"Liberation Sans", sans-serif'>Work with Contractors</text></g>
<clipPath id="k24"><rect x="981.5" y="837.1" width="22.5" height="21.5" rx="1.6"/></clipPath><g clip-path="url(#k24)"><rect x="981.5" y="837.1" width="22.5" height="22" fill="#7e7e7e"/><rect x="981.5" y="837.1" width="22.5" height="1" fill="#000" fill-opacity="0.07"/><text x="992.75" y="852.3000000000001" text-anchor="middle" font-size="12" fill="#fff" font-family='"Liberation Sans", sans-serif'>P…</text></g>
<clipPath id="k25"><rect x="1004.5" y="867.1" width="16.5" height="21.5" rx="1.6"/></clipPath><g clip-path="url(#k25)"><rect x="1004.5" y="867.1" width="16.5" height="22" fill="#7e7e7e"/><rect x="1004.5" y="867.1" width="16.5" height="1" fill="#000" fill-opacity="0.07"/><text x="1012.75" y="882.3000000000001" text-anchor="middle" font-size="12" fill="#fff" font-family='"Liberation Sans", sans-serif'>…</text></g>
<clipPath id="k27"><rect x="1021.5" y="927.1" width="23.5" height="21.5" rx="1.6"/></clipPath><g clip-path="url(#k27)"><rect x="1021.5" y="927.1" width="23.5" height="22" fill="#4cbcd4"/><rect x="1021.5" y="927.1" width="3.5" height="22" fill="#23a0b8"/><rect x="1021.5" y="927.1" width="23.5" height="1" fill="#000" fill-opacity="0.07"/><text x="1033.25" y="942.3000000000001" text-anchor="middle" font-size="12" fill="#fff" font-family='"Liberation Sans", sans-serif'>C…</text></g>
<clipPath id="k28"><rect x="1045.5" y="957.1" width="30.5" height="21.5" rx="1.6"/></clipPath><g clip-path="url(#k28)"><rect x="1045.5" y="957.1" width="30.5" height="22" fill="#4cbcd4"/><rect x="1045.5" y="957.1" width="1.5" height="22" fill="#23a0b8"/><rect x="1045.5" y="957.1" width="30.5" height="1" fill="#000" fill-opacity="0.07"/><text x="1060.75" y="972.3000000000001" text-anchor="middle" font-size="12" fill="#fff" font-family='"Liberation Sans", sans-serif'>Ch…</text></g>
<clipPath id="k29"><rect x="1076.5" y="987.1" width="19.5" height="21.5" rx="1.6"/></clipPath><g clip-path="url(#k29)"><rect x="1076.5" y="987.1" width="19.5" height="22" fill="#4cbcd4"/><rect x="1076.5" y="987.1" width="19.5" height="1" fill="#000" fill-opacity="0.07"/><text x="1086.25" y="1002.3000000000001" text-anchor="middle" font-size="12" fill="#fff" font-family='"Liberation Sans", sans-serif'>…</text></g>
<clipPath id="k31"><rect x="1021.5" y="1047.1" width="31.5" height="21.5" rx="1.6"/></clipPath><g clip-path="url(#k31)"><rect x="1021.5" y="1047.1" width="31.5" height="22" fill="#4cbcd4"/><rect x="1021.5" y="1047.1" width="2.5" height="22" fill="#23a0b8"/><rect x="1021.5" y="1047.1" width="31.5" height="1" fill="#000" fill-opacity="0.07"/><text x="1037.25" y="1062.3" text-anchor="middle" font-size="12" fill="#fff" font-family='"Liberation Sans", sans-serif'>St…</text></g>
<clipPath id="k32"><rect x="1053.5" y="1077.1" width="23.5" height="21.5" rx="1.6"/></clipPath><g clip-path="url(#k32)"><rect x="1053.5" y="1077.1" width="23.5" height="22" fill="#4cbcd4"/><rect x="1053.5" y="1077.1" width="23.5" height="1" fill="#000" fill-opacity="0.07"/><text x="1065.25" y="1092.3" text-anchor="middle" font-size="12" fill="#fff" font-family='"Liberation Sans", sans-serif'>S…</text></g>
<clipPath id="k33"><rect x="1077.5" y="1107.1" width="18.5" height="21.5" rx="1.6"/></clipPath><g clip-path="url(#k33)"><rect x="1077.5" y="1107.1" width="18.5" height="22" fill="#4cbcd4"/><rect x="1077.5" y="1107.1" width="18.5" height="1" fill="#000" fill-opacity="0.07"/><text x="1086.75" y="1122.3" text-anchor="middle" font-size="12" fill="#fff" font-family='"Liberation Sans", sans-serif'>…</text></g>
<path d="M1217,653.4 L1231.6,668 L1217,682.6 L1202.4,668 Z" fill="#d858bd"/>
<path d="M977,773.4 L991.6,788 L977,802.6 L962.4,788 Z" fill="#d858bd"/>
<path d="M1097,1163.4 L1111.6,1178 L1097,1192.6 L1082.4,1178 Z" fill="#d858bd"/>
<rect x="1096" y="1137" width="1.5" height="21" fill="#c9c2dd"/>
</svg>
</div></body></html>
